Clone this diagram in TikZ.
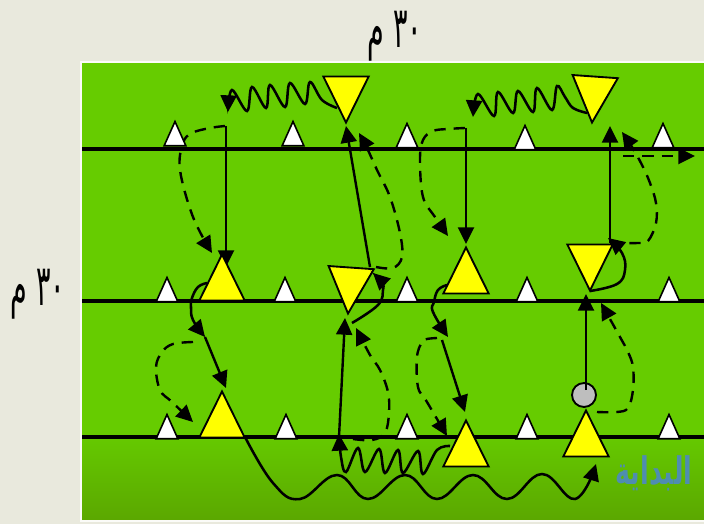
\documentclass[tikz,border=0pt]{standalone}
\usepackage{fontspec}
\usetikzlibrary{shapes.geometric,arrows.meta}
\TeXXeTstate=1
\newfontfamily\arabicfont[Script=Arabic]{DejaVu Sans}
\pgfdeclarelayer{under}
\pgfdeclarelayer{back}
\pgfsetlayers{under,back,main}
\definecolor{paper}{HTML}{E9E9DD}
\definecolor{fieldtop}{HTML}{66CC00}
\definecolor{fieldlow}{HTML}{5BA800}
\definecolor{marker}{HTML}{FFFF00}
\definecolor{ball}{HTML}{BEBEBE}
\definecolor{wm}{HTML}{4F8DB0}
\tikzset{
  tri/.style={draw=black,isosceles triangle,isosceles triangle stretches,inner sep=0pt,outer sep=0pt,anchor=apex,line join=miter},
  yellowtri/.style={tri,fill=marker,line width=1.4pt,minimum width=34pt,minimum height=34.5pt},
  whitetri/.style={tri,fill=white,line width=1.2pt,minimum width=16.3pt,minimum height=18.2pt,rotate=90},
  fieldline/.style={line width=2.4pt},
  run/.style={line width=1.8pt,-{Triangle[length=12.5pt,width=12pt]}},
  dash run/.style={run,dash pattern=on 8.5pt off 6pt},
  wave/.style={line width=1.9pt,-{Triangle[length=12.5pt,width=12pt]}},
  meter/.style={font=\arabicfont\fontsize{26}{28}\selectfont,inner sep=0pt,transform shape,xscale=.78,yscale=1.65}
}
\begin{document}
\begin{tikzpicture}[x=0.75pt,y=-0.75pt]
\useasboundingbox (0,0) rectangle (704,524);
\begin{pgfonlayer}{under}
  \fill[paper] (0,0) rectangle (704,524);
  \fill[white!80!paper] (80,61) rectangle (704,522);
  \fill[fieldtop] (82,63) rectangle (704,430);
  \shade[top color=fieldtop,bottom color=fieldlow] (82,429.5) rectangle (704,519);
  \coordinate (L1a) at (82,149); \coordinate (L1b) at (704,149);
  \coordinate (L2a) at (82,301); \coordinate (L2b) at (704,301);
  \coordinate (L3a) at (82,437); \coordinate (L3b) at (704,437);
  \draw[fieldline] (L1a) -- (L1b);
  \draw[fieldline] (L2a) -- (L2b);
  \draw[fieldline] (L3a) -- (L3b);
\end{pgfonlayer}

% labels
\node[meter] (topdim) at (395,36) {\beginR\beginL ٣٠\endL{} م\endR};
\node[meter] (leftdim) at (38,294) {\beginR\beginL ٣٠\endL{} م\endR};
\node[font=\arabicfont\bfseries\fontsize{19}{21}\selectfont,text=wm,inner sep=0pt,transform shape,yscale=1.5] (start) at (654,473) {\beginR البداية\endR};

% yellow markers
\node[yellowtri,rotate=90] (A) at (222,254.5) {};
\node[yellowtri,rotate=270] (B) at (346,122.5) {};
\node[yellowtri,rotate=266] (C) at (348,313.5) {};
\node[yellowtri,rotate=266] (D) at (592,122.5) {};
\node[yellowtri,rotate=270] (E) at (590,290.5) {};
\node[yellowtri,rotate=90] (F) at (466,247.5) {};
\node[yellowtri,rotate=90] (G) at (222,391.5) {};
\node[yellowtri,rotate=90] (H) at (466,420.5) {};
\node[yellowtri,rotate=90] (I) at (586,410.5) {};
\node[draw=black,line width=1.4pt,fill=ball,circle,minimum size=18pt,inner sep=0pt] (ballnode) at (584,395) {};

% named free ends
\coordinate (a1) at (226,126);
\coordinate (a2) at (226,267);
\coordinate (c1) at (370,267);
\coordinate (c2) at (346,126);
\coordinate (g1) at (339,437);
\coordinate (g2) at (345,318);
\coordinate (h1) at (466,128);
\coordinate (h2) at (466,244);
\coordinate (e1) at (610,243);
\coordinate (e2) at (610,126);
\coordinate (i1) at (586,390);
\coordinate (i2) at (586,294);
\coordinate (k1) at (205,337);
\coordinate (k2) at (226,388);
\coordinate (m1) at (442,340);
\coordinate (m2) at (465,412);
\coordinate (r1) at (623,156);
\coordinate (r2) at (695,156);

\begin{pgfonlayer}{back}
  \draw[run] (a1) -- (a2);
  \draw[dash run] plot[smooth,tension=.6] coordinates {(225,126) (210,128) (192,133) (183,143) (180,170) (193,217) (212,253)};
\end{pgfonlayer}

% straight runs
\draw[run] (c1) -- (c2);
\draw[run] (g1) -- (g2);
\draw[run] (h1) -- (h2);
\draw[run] (e1) -- (e2);
\draw[run] (i1) -- (i2);
\draw[run] (k1) -- (k2);
\draw[run] (m1) -- (m2);
\draw[dash run] (r1) -- (r2);

% dashed curves
\draw[dash run] plot[smooth,tension=.6] coordinates {(376,267) (393,268) (402,257) (400,233) (390,197) (377,170) (367,148) (359,133)};
\draw[dash run] plot[smooth,tension=.6] coordinates {(193,342) (173,344) (162,352) (156,367) (160,390) (172,402) (193,422)};
\draw[dash run] plot[smooth,tension=.6] coordinates {(353,439) (372,440) (385,433) (389,413) (388,392) (380,370) (370,355) (356,328)};
\draw[dash run] plot[smooth,tension=.6] coordinates {(437,338) (427,339) (422,342) (417,357) (418,387) (427,402) (447,436)};
\draw[dash run] plot[smooth,tension=.6] coordinates {(597,412) (617,412) (628,408) (633,390) (633,367) (628,352) (620,337) (601,303)};
\draw[dash run] plot[smooth,tension=.6] coordinates {(610,243) (638,243) (648,241) (656,223) (656,203) (650,183) (642,165) (632,147) (622,132)};
\draw[dash run] plot[smooth,tension=.6] coordinates {(465,128) (448,129) (433,131) (423,140) (420,160) (423,197) (435,217) (448,236)};

% solid short curves
\draw[wave] plot[smooth,tension=.7] coordinates {(207,283) (198,287) (192,298) (191,307) (193,320) (205,337)};
\draw[wave] plot[smooth,tension=.7] coordinates {(447,285) (438,290) (434,302) (433,312) (448,337)};
\draw[wave] plot[smooth,tension=.7] coordinates {(352,323) (378,305) (383,290) (382,283) (373,273)};
\draw[wave] plot[smooth,tension=.7] coordinates {(590,291) (617,284) (625,270) (622,253) (608,238)};

% wavy runs
\draw[wave] plot[smooth,tension=.6] coordinates {(337,108) (322,100) (310,82) (305,104) (290,83) (285,107) (270,85) (266,108) (252,87) (247,111) (232,90) (228,112)};
\draw[wave] plot[smooth,tension=.6] coordinates {(587,113) (573,108) (565,97) (557,86) (552,110) (537,88) (533,112) (518,91) (513,113) (498,92) (494,116) (478,94) (473,117)};
\draw[wave] plot[smooth,tension=.6] coordinates {(450,446) (437,450) (423,474) (418,451) (403,473) (398,450) (385,473) (379,449) (365,472) (358,448) (346,472) (341,457) (339,434)};
\draw[wave] plot[smooth,tension=.7] coordinates {(245,437) (273,483) (300,499) (337,475) (368,499) (405,475) (437,499) (473,475) (507,499) (542,474) (575,499) (596,464)};

% white markers
\node[whitetri] (w11) at (175,121.5) {};
\node[whitetri] (w12) at (293,121.5) {};
\node[whitetri] (w13) at (407,123.5) {};
\node[whitetri] (w14) at (525,125.5) {};
\node[whitetri] (w15) at (663,123.5) {};
\node[whitetri] (w21) at (167,277.5) {};
\node[whitetri] (w22) at (285,277.5) {};
\node[whitetri] (w23) at (407,277.5) {};
\node[whitetri] (w24) at (527,277.5) {};
\node[whitetri] (w25) at (669,277.5) {};
\node[whitetri] (w31) at (167,414.5) {};
\node[whitetri] (w32) at (286,414.5) {};
\node[whitetri] (w33) at (407,414.5) {};
\node[whitetri] (w34) at (527,414.5) {};
\node[whitetri] (w35) at (669,414.5) {};
\end{tikzpicture}
\end{document}
